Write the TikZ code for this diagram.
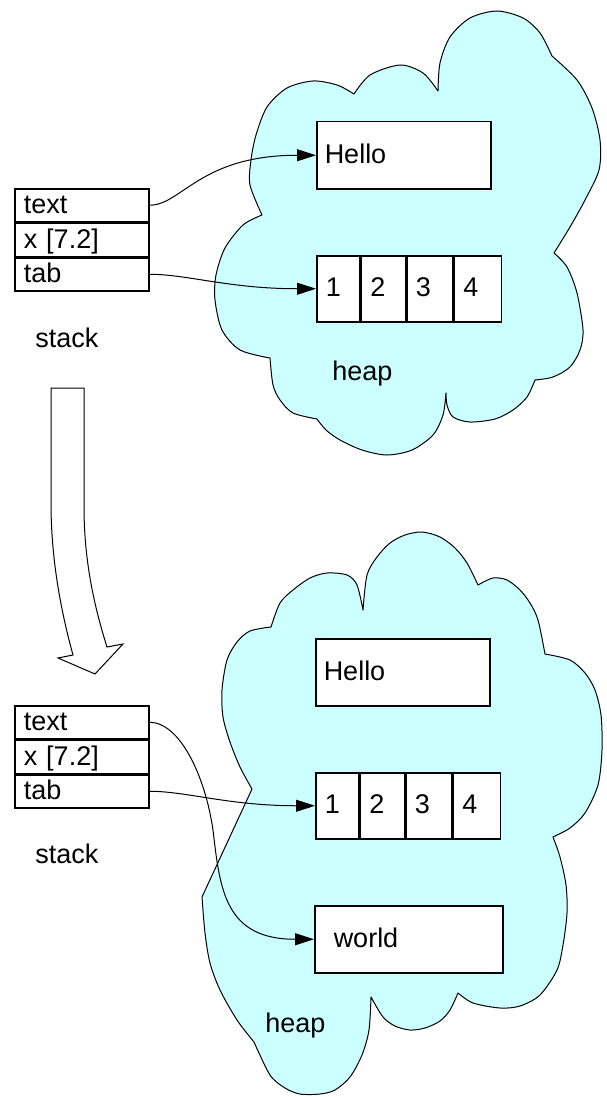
\documentclass[tikz,border=0pt]{standalone}
\usepackage{fontspec}
\setmainfont{Liberation Sans}
\usetikzlibrary{arrows.meta}
\definecolor{heapfill}{RGB}{204,255,255}
\tikzset{
  heapcloud/.style={draw=black, line width=0.5pt, fill=heapfill, line join=round},
  cellbox/.style={draw=black, line width=0.75pt, fill=white, anchor=north west,
    inner ysep=0pt, align=left},
  slot/.style={cellbox, text height=12.5pt, text depth=4pt, inner xsep=4.5pt, text width=58pt},
  strbox/.style={cellbox, text height=21pt, text depth=12.5pt},
  numcell/.style={cellbox, text height=20.5pt, text depth=12.5pt, inner xsep=4.5pt},
  caption/.style={anchor=base west, inner sep=0pt},
  link/.style={draw=black, line width=0.5pt, -{Triangle[length=9.5pt, width=6pt]}},
  bigarrow/.style={draw=black, line width=0.5pt, fill=white, line join=miter}
}
\begin{document}
\begin{tikzpicture}[x=0.5pt, y=-0.5pt, font=\fontsize{13.5}{16}\selectfont]
\useasboundingbox (0,0) rectangle (606,1097);

% ---------- upper heap cloud ----------
\path[heapcloud]
  plot[smooth] coordinates {(262,215) (250,185) (251,160) (256,135) (267,107) (287,88) (313,81) (337,85) (354,94)}
  -- plot[smooth] coordinates {(354,94) (370,75) (400,65) (423,73) (438,91)}
  -- plot[smooth] coordinates {(438,91) (440,63) (450,37) (470,18) (497,11) (523,18) (540,33) (552,56)}
  -- plot[smooth] coordinates {(552,56) (577,80) (592,108) (600,140) (599,170) (585,200) (570,227) (554,253)}
  -- plot[smooth] coordinates {(554,253) (567,267) (577,293) (583,330) (580,350) (570,367) (553,377) (535,380)}
  -- plot[smooth] coordinates {(535,380) (527,397) (513,410) (495,419) (470,422) (453,417) (447,405) (446,393)}
  -- plot[smooth] coordinates {(446,393) (443,415) (433,435) (412,450) (387,455) (362,450) (340,440) (326,430) (317,419)}
  -- plot[smooth] coordinates {(317,419) (293,413) (280,400) (273,385) (270,358)}
  -- plot[smooth] coordinates {(270,358) (240,350) (222,330) (215,300) (216,275) (225,248) (243,225) (262,215)}
  -- cycle;

% ---------- lower heap cloud ----------
\path[heapcloud]
  plot[smooth] coordinates {(271,627) (280,603) (293,590) (310,578) (327,573) (347,575) (357,585) (363,610)}
  -- plot[smooth] coordinates {(363,610) (367,575) (377,557) (390,543) (405,535) (422,532) (440,537) (455,548) (467,563) (478,585)}
  -- plot[smooth] coordinates {(478,585) (493,578) (507,580) (520,590) (530,603) (538,620) (545,654)}
  -- plot[smooth] coordinates {(545,654) (570,660) (585,673) (595,690) (601,715) (602,750) (598,785) (585,813) (570,828) (553,837)}
  -- plot[smooth] coordinates {(553,837) (560,857) (566,885) (567,913) (563,945) (557,970) (540,995) (520,1006) (500,1008) (473,1003) (458,993)}
  -- plot[smooth] coordinates {(458,993) (450,1010) (440,1021) (425,1028) (410,1030) (395,1026) (383,1017) (371,997)}
  -- plot[smooth] coordinates {(371,997) (369,1030) (362,1055) (350,1077) (335,1090) (320,1094) (300,1094) (285,1088) (270,1075) (254,1042)}
  -- plot[smooth] coordinates {(254,1042) (237,1020) (220,990) (210,963) (205,933) (202,897)}
  -- (252,789)
  -- plot[smooth] coordinates {(252,789) (240,767) (230,742) (223,717) (222,690) (227,660) (237,642) (250,631) (271,627)}
  -- cycle;

% ---------- upper state ----------
\node[slot] (s1) at (14,188) {text};
\node[slot] (s2) at (s1.south west) {x [7.2]};
\node[slot] (s3) at (s2.south west) {tab};
\node[caption] (stk1) at (35,347) {stack};

\node[strbox, inner xsep=4pt, text width=79pt] (h1) at (316,121) {Hello};
\node[numcell, text width=12.5pt] (a1) at (316,255) {1};
\node[numcell, text width=13pt]   (a2) at (a1.north east) {2};
\node[numcell, text width=14pt]   (a3) at (a2.north east) {3};
\node[numcell, text width=14.5pt] (a4) at (a3.north east) {4};
\node[caption] (hp1) at (332,380) {heap};

\draw[link] (s1.east) .. controls +(32,0) and +(-116,0) .. (h1.west);
\draw[link] (s3.east) .. controls +(37,0) and +(-86,0) .. (a1.west);

% ---------- transition arrow ----------
\path[bigarrow] (51,388) -- (84,388) -- (84,507)
  .. controls (84,565) and (96,612) .. (107,647)
  -- (123,644) -- (95,674) -- (58,658) -- (73,655)
  .. controls (62,615) and (51,562) .. (51,503) -- cycle;

% ---------- lower state ----------
\node[slot] (r1) at (14,705) {text};
\node[slot] (r2) at (r1.south west) {x [7.2]};
\node[slot] (r3) at (r2.south west) {tab};
\node[caption] (stk2) at (35,863) {stack};

\node[strbox, inner xsep=4pt, text width=79pt] (h2) at (315,638) {Hello};
\node[numcell, text width=12.5pt] (b1) at (315,772) {1};
\node[numcell, text width=13pt]   (b2) at (b1.north east) {2};
\node[numcell, text width=14pt]   (b3) at (b2.north east) {3};
\node[numcell, text width=14.5pt] (b4) at (b3.north east) {4};
\node[strbox, inner xsep=9.5pt, text width=75pt] (w) at (314,905) {world};
\node[caption] (hp2) at (265,1032) {heap};

\coordinate (turn) at (213,830);
\draw[link] (r3.east) .. controls +(37,0) and +(-86,0) .. (b1.west);
\draw[link] (r1.east) .. controls +(30,0) and (205,775) .. (turn)
  .. controls (220,890) and +(-89,0) .. (w.west);
\end{tikzpicture}
\end{document}
